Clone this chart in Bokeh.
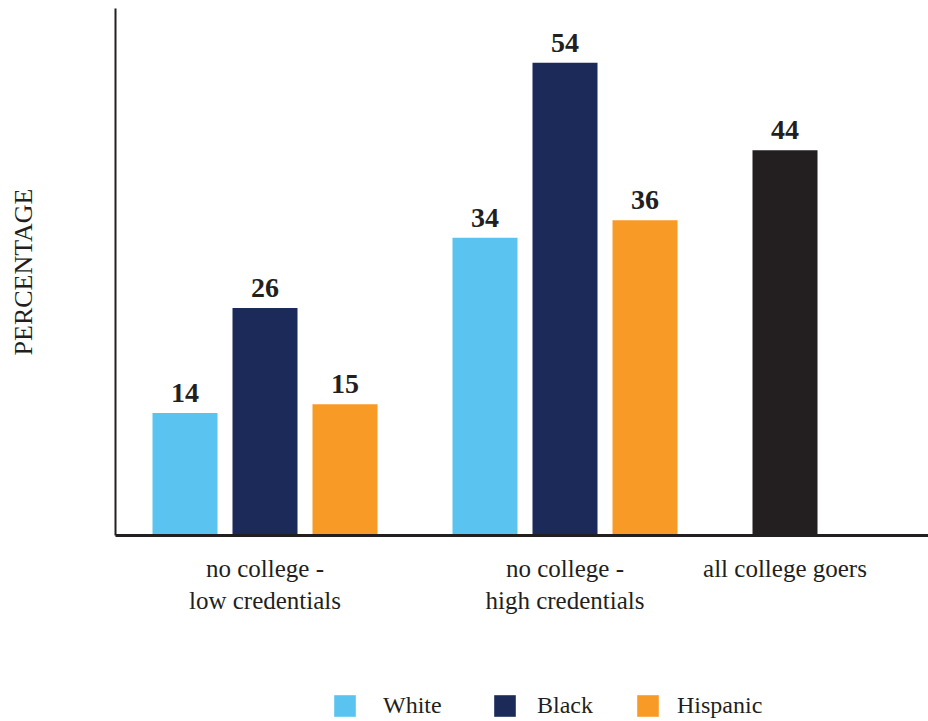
from bokeh.plotting import figure
from bokeh.models import Legend, LegendItem, FixedTicker, ColumnDataSource
from bokeh.layouts import column
from bokeh.embed import file_html
from bokeh.resources import INLINE
from bokeh.core.properties import value

# ---- data ----
groups = ["no college -\nlow credentials", "no college -\nhigh credentials", "all college goers"]
series = ["White", "Black", "Hispanic"]
white = [14, 34]
black = [26, 54]
hispanic = [15, 36]
all_goers = [44]
y_label = "PERCENTAGE"

colors = {"White": "#5bc3ef", "Black": "#1b2a58", "Hispanic": "#f79a26", "All": "#231f20"}
ink = "#231f20"
FONT = "Liberation Serif"

# layout units: one slot = 4 units, one group = 15 units
GROUP_STEP = 15
SLOT_STEP = 4
BAR_W = 3.25

p = figure(width=928, height=680, x_range=(-3.475, 37.175), y_range=(0, 60.2),
           output_backend="svg", toolbar_location=None,
           min_border_left=115, min_border_right=0, min_border_top=8, min_border_bottom=145)
p.outline_line_color = None
p.xgrid.grid_line_color = None
p.ygrid.grid_line_color = None
p.background_fill_color = "white"
p.border_fill_color = "white"

renderers = {}
for s_idx, (name, vals) in enumerate(zip(series, [white, black, hispanic])):
    xs = [g * GROUP_STEP + s_idx * SLOT_STEP for g in range(len(vals))]
    src = ColumnDataSource(dict(x=xs, top=vals, lab=[str(v) for v in vals]))
    r = p.vbar(x="x", top="top", width=BAR_W, bottom=0, source=src,
               fill_color=colors[name], line_color=None)
    renderers[name] = r
    p.text(x="x", y="top", text="lab", source=src, y_offset=-11,
           text_align="center", text_baseline="bottom",
           text_font=value(FONT), text_font_style="bold",
           text_font_size="28px", text_color=ink)

xs = [2 * GROUP_STEP + 0 * SLOT_STEP]
src = ColumnDataSource(dict(x=xs, top=all_goers, lab=[str(v) for v in all_goers]))
p.vbar(x="x", top="top", width=BAR_W, bottom=0, source=src,
       fill_color=colors["All"], line_color=None)
p.text(x="x", y="top", text="lab", source=src, y_offset=-11,
       text_align="center", text_baseline="bottom",
       text_font=value(FONT), text_font_style="bold",
       text_font_size="28px", text_color=ink)

# x axis: category labels
tick_pos = [0 * GROUP_STEP + SLOT_STEP, 1 * GROUP_STEP + SLOT_STEP, 2 * GROUP_STEP]
xa = p.xaxis[0]
xa.ticker = FixedTicker(ticks=tick_pos)
xa.major_label_overrides = {t: g for t, g in zip(tick_pos, groups)}
xa.major_tick_line_color = None
xa.minor_tick_line_color = None
xa.axis_line_color = ink
xa.axis_line_width = 3
xa.major_label_standoff = 13
xa.major_label_text_font = FONT
xa.major_label_text_font_size = "25px"
xa.major_label_text_color = ink

ya = p.yaxis[0]
ya.ticker = FixedTicker(ticks=[])
ya.major_tick_line_color = None
ya.minor_tick_line_color = None
ya.axis_line_color = ink
ya.axis_line_width = 2
ya.axis_label = y_label
ya.axis_label_text_font = FONT
ya.axis_label_text_font_style = "normal"
ya.axis_label_text_font_size = "26px"
ya.axis_label_text_color = ink
ya.axis_label_standoff = 78

# ---- legend strip (frame aligned with the chart above) ----
lg = figure(width=928, height=41, x_range=(0, 1), y_range=(0, 1),
            output_backend="svg", toolbar_location=None,
            min_border_left=115, min_border_right=0, min_border_top=0, min_border_bottom=0,
            x_axis_type=None, y_axis_type=None)
lg.outline_line_color = None
lg.xgrid.grid_line_color = None
lg.ygrid.grid_line_color = None

FRAME_LEFT = 115
legend_x = {"White": 331, "Black": 491, "Hispanic": 634}
legend_gap = {"White": 25, "Black": 19, "Hispanic": 16}
for name in series:
    # zero-size proxy glyph so the legend can draw its swatch
    r = lg.vbar(x=[0], top=[0], bottom=0, width=0, fill_color=colors[name], line_color=None)
    leg = Legend(items=[LegendItem(label=name, renderers=[r])],
                 location=(legend_x[name] - FRAME_LEFT, 2),
                 glyph_width=27, glyph_height=27, label_standoff=legend_gap[name],
                 padding=0, margin=0, border_line_color=None, background_fill_alpha=0,
                 label_text_font=FONT, label_text_font_size="24px", label_text_color=ink)
    lg.add_layout(leg, "center")

layout = column(p, lg, spacing=0)
open("out.html", "w").write(file_html(layout, INLINE))
